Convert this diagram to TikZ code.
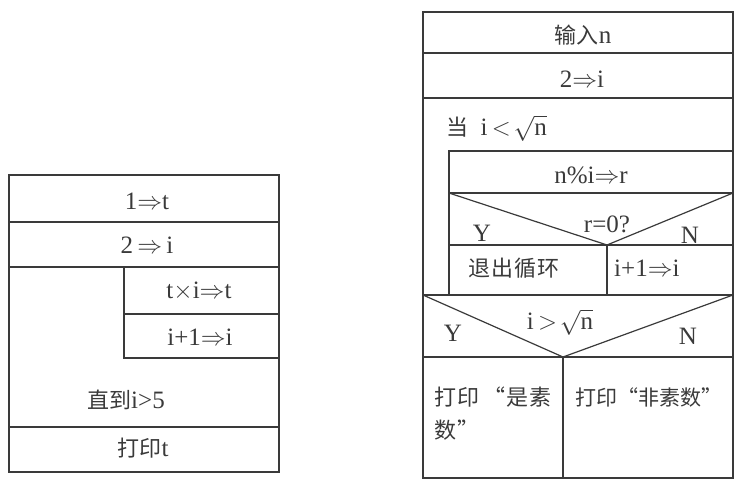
\documentclass[tikz,border=0pt]{standalone}
\usepackage{fontspec}
\setmainfont{Liberation Serif}
\newfontfamily\cjkf{Noto Sans CJK SC}
\newfontfamily\cjkspf[LetterSpace=5]{Noto Sans CJK SC}
\newcommand\cjk{\cjkf\fontsize{22}{25}\selectfont}
\newcommand\cjksp{\cjkspf\fontsize{22}{25}\selectfont}
\newcommand\cjksm{\cjkf\fontsize{21}{24}\selectfont}
\definecolor{ink}{HTML}{3A3A3A}
\begin{document}
\begin{tikzpicture}[x=1pt,y=-1pt,
  box/.style={draw=ink,line width=1.2pt},
  ln/.style={draw=ink,line width=1.2pt},
  txt/.style={text=ink,font=\fontsize{25}{28}\selectfont,inner sep=0pt},
  wtxt/.style={txt,anchor=west}]
\useasboundingbox (0,0) rectangle (734,481);
% ---------- left diagram ----------
\draw[box] (9,175) rectangle (279,472);
\draw[ln] (9,222) -- (279,222);
\draw[ln] (9,267) -- (279,267);
\draw[ln] (124,267) -- (124,358) -- (279,358);
\draw[ln] (124,314) -- (279,314);
\draw[ln] (9,427) -- (279,427);
\node[txt] (a1) at (147,201) {1$\Rightarrow$t};
\node[txt] (a2) at (147,245) {2\,$\Rightarrow$\,i};
\node[txt] (a3) at (199,291) {t$\times$i$\Rightarrow$t};
\node[txt] (a4) at (200,337) {i+1$\Rightarrow$i};
\node[wtxt] (a5) at (87,400) {{\cjk 直到}i>5};
\node[txt] (a6) at (143,448) {{\cjk 打印}t};
% ---------- right diagram ----------
\draw[box] (423,12) rectangle (733,478);
\draw[ln] (423,53) -- (733,53);
\draw[ln] (423,98) -- (733,98);
\draw[ln] (449,295) -- (449,151) -- (733,151);
\draw[ln] (449,193) -- (733,193);
\draw[ln] (449,193) -- (607,245) -- (733,193);
\draw[ln] (449,245) -- (733,245);
\draw[ln] (607,245) -- (607,295);
\draw[ln] (423,295) -- (733,295);
\draw[ln] (423,295) -- (563,357) -- (733,295);
\draw[ln] (423,357) -- (733,357);
\draw[ln] (563,357) -- (563,478);
\node[txt] (b1) at (583,35) {{\cjk 输入}n};
\node[txt] (b2) at (582,79) {2$\Rightarrow$i};
\node[wtxt] (b3) at (446,128) {{\cjk 当}\ \ i\,$<\!\sqrt{\mathrm{n}}$};
\node[txt] (b4) at (591,175) {n\%i$\Rightarrow$r};
\node[txt] (b5) at (482,233) {Y};
\node[txt] (b6) at (607,224) {r=0?};
\node[txt] (b7) at (690,235) {N};
\node[wtxt] (b8) at (468,268) {\cjksp 退出循环};
\node[wtxt] (b9) at (614,268) {i+1$\Rightarrow$i};
\node[txt] (c1) at (453,333) {Y};
\node[txt] (c2) at (560,322) {i\,$>\!\sqrt{\mathrm{n}}$};
\node[txt] (c3) at (688,336) {N};
\node[wtxt] (c4) at (434,397) {\cjksp 打印\hspace{4pt}“是素};
\node[wtxt] (c5) at (434,430) {\cjksp 数”};
\node[wtxt] (c6) at (575,397) {\cjksm 打印“非素数”};
\end{tikzpicture}
\end{document}
